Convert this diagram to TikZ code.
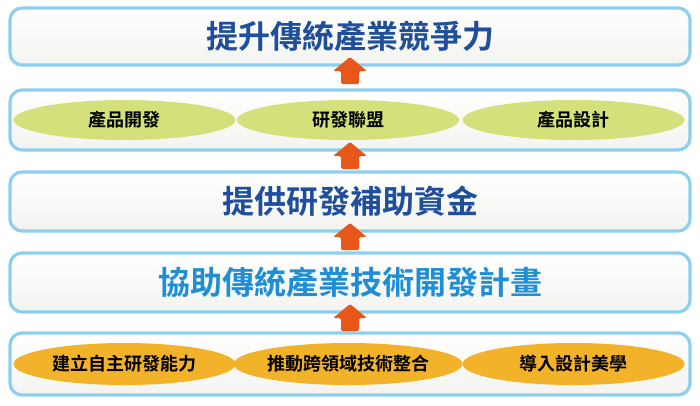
\documentclass[tikz,border=0pt]{standalone}
\usepackage{fontspec}
\setmainfont{Noto Sans CJK TC Bold}
\usetikzlibrary{shapes.geometric}
\definecolor{frame}{HTML}{8CCFEF}
\definecolor{fillg}{HTML}{F3F3F0}
\definecolor{dblue}{HTML}{1F4E9A}
\definecolor{lblue}{HTML}{1E8FD5}
\definecolor{green}{HTML}{D5E07A}
\definecolor{orange}{HTML}{F2B22A}
\definecolor{arr}{HTML}{E8571A}
\tikzset{
 rowbox/.style={draw=frame,line width=3.2pt,rounded corners=12pt,top color=white,bottom color=fillg,minimum width=680pt,inner sep=0pt},
 ell/.style={ellipse,minimum width=222pt,inner sep=0pt,font=\fontsize{18}{18}\selectfont},
 big/.style={font=\fontsize{32}{32}\selectfont}
}
\newcommand{\uparrowat}[2]{\fill[arr,rounded corners=1.5pt] (#1-9,#2+13) -- (#1-9,#2) -- (#1-17,#2) -- (#1,#2-14) -- (#1+17,#2) -- (#1+9,#2) -- (#1+9,#2+13) -- cycle;}
\begin{document}
\begin{tikzpicture}[x=1pt,y=-1pt]
\useasboundingbox (0,0) rectangle (700,405);
\node[rowbox,minimum height=57pt,text=dblue,big] (r1) at (350,36.5) {提升傳統產業競爭力};
\node[rowbox,minimum height=60pt] (r2) at (350,120) {};
\node[rowbox,minimum height=59pt,text=dblue,big] (r3) at (350,201.5) {提供研發補助資金};
\node[rowbox,minimum height=59pt,text=lblue,big] (r4) at (350,282.5) {協助傳統產業技術開發計畫};
\node[rowbox,minimum height=62pt] (r5) at (350,364) {};
\node[ell,fill=green,minimum height=40pt] (g1) at (124.5,120) {產品開發};
\node[ell,fill=green,minimum height=40pt] (g2) at (348,120) {研發聯盟};
\node[ell,fill=green,minimum height=40pt] (g3) at (573.5,120) {產品設計};
\node[ell,fill=orange,minimum height=42pt] (o1) at (124.5,364) {建立自主研發能力};
\node[ell,fill=orange,minimum height=42pt] (o2) at (348,364) {推動跨領域技術整合};
\node[ell,fill=orange,minimum height=42pt] (o3) at (573.5,364) {導入設計美學};
\uparrowat{350}{71}
\uparrowat{350}{156}
\uparrowat{350}{237}
\uparrowat{350}{318}
\end{tikzpicture}
\end{document}
